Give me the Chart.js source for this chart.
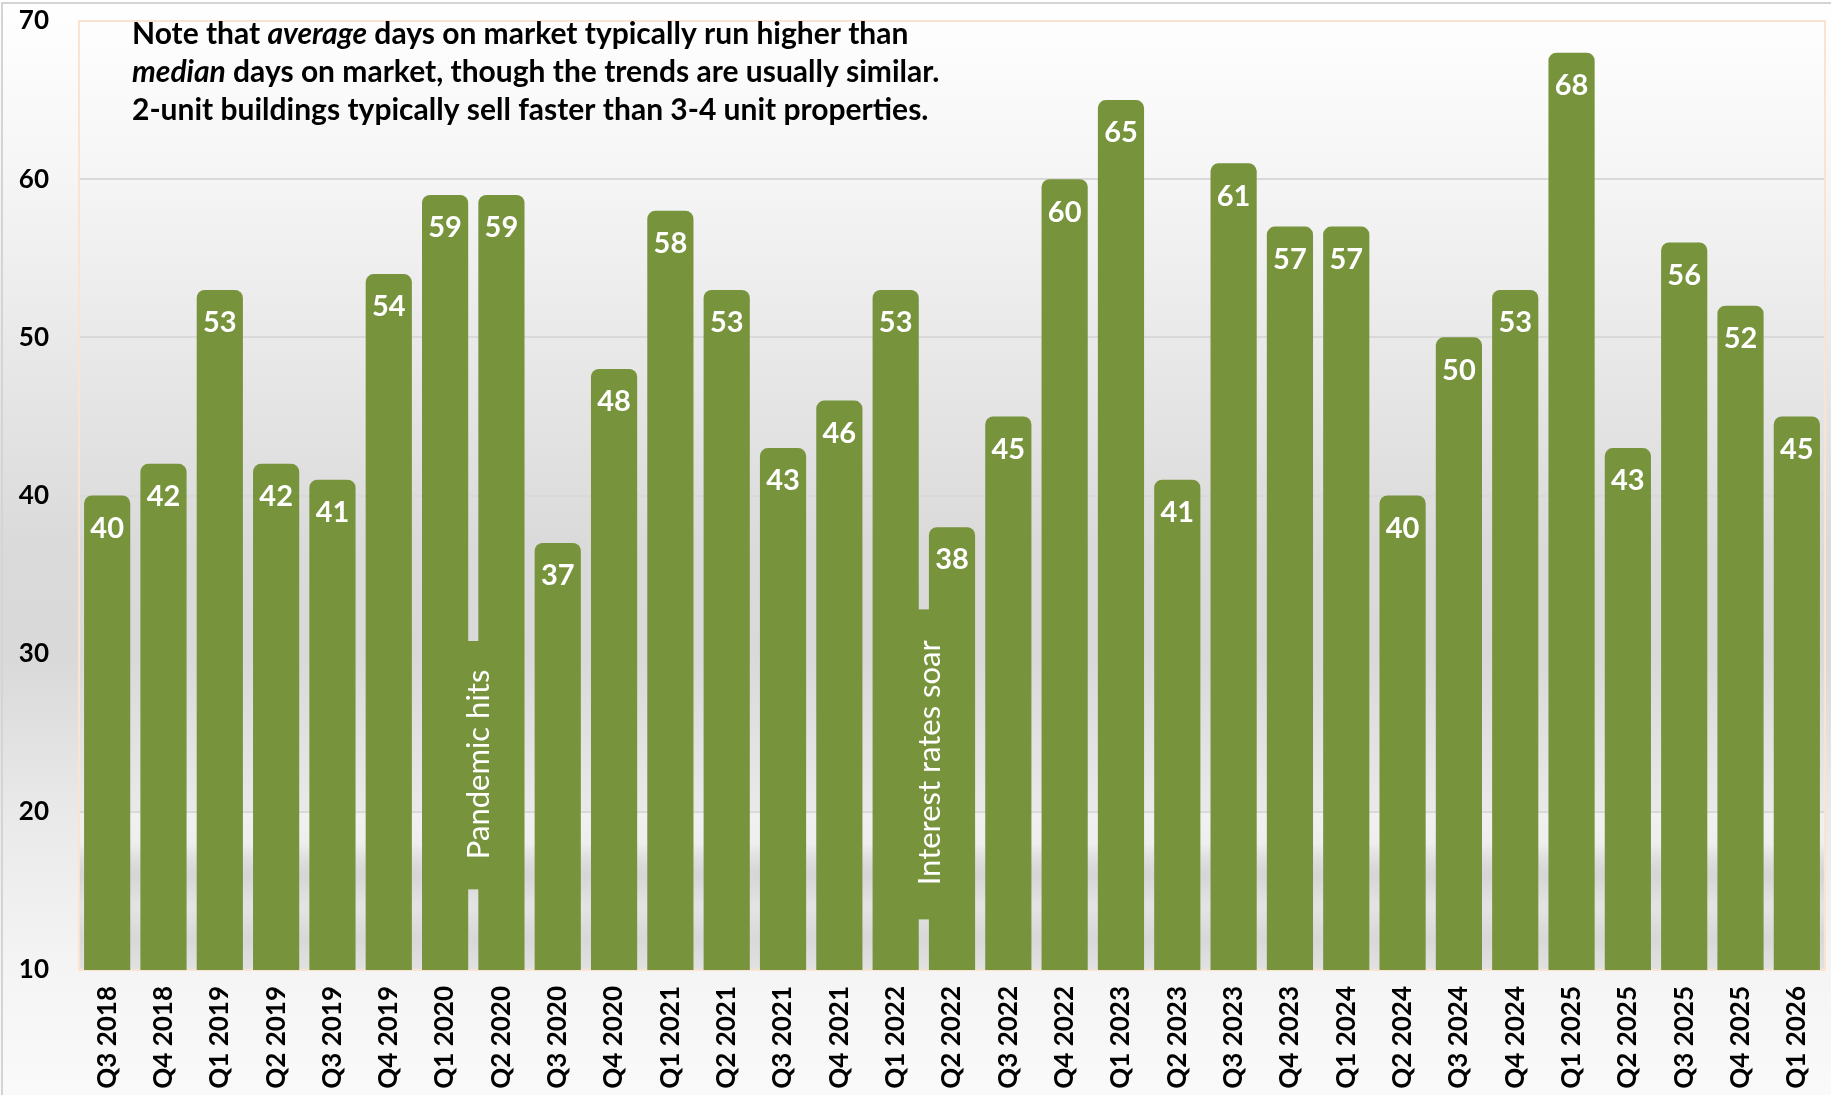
<!DOCTYPE html>
<html>
<head>
<meta charset="utf-8">
<script src="https://cdn.jsdelivr.net/npm/chart.js@4.4.1/dist/chart.umd.min.js"></script>
<style>
  html, body { margin: 0; padding: 0; background: #fafafa; }
  canvas { display: block; }
</style>
</head>
<body>
<canvas id="domChart" width="1831" height="1095"></canvas>
<script>
// Average days on market, 2-unit buildings, by quarter
const quarters = [
  'Q3 2018', 'Q4 2018',
  'Q1 2019', 'Q2 2019', 'Q3 2019', 'Q4 2019',
  'Q1 2020', 'Q2 2020', 'Q3 2020', 'Q4 2020',
  'Q1 2021', 'Q2 2021', 'Q3 2021', 'Q4 2021',
  'Q1 2022', 'Q2 2022', 'Q3 2022', 'Q4 2022',
  'Q1 2023', 'Q2 2023', 'Q3 2023', 'Q4 2023',
  'Q1 2024', 'Q2 2024', 'Q3 2024', 'Q4 2024',
  'Q1 2025', 'Q2 2025', 'Q3 2025', 'Q4 2025',
  'Q1 2026'
];
const avgDays = [
  40, 42,
  53, 42, 41, 54,
  59, 59, 37, 48,
  58, 53, 43, 46,
  53, 38, 45, 60,
  65, 41, 61, 57,
  57, 40, 50, 53,
  68, 43, 56, 52,
  45
];
const yTickValues = [10, 20, 30, 40, 50, 60, 70];

const eventLabels = ['Pandemic hits', 'Interest rates soar'];
const eventAfter = ['Q1 2020', 'Q1 2022'];

const noteLines = [
  [['Note that ', false], ['average', true], [' days on market typically run higher than', false]],
  [['median', true], [' days on market, though the trends are usually similar.', false]],
  [['2-unit buildings typically sell faster than 3-4 unit properties.', false]]
];

const GREEN = '#77933c';
const FONT = 'Lato, "Open Sans", sans-serif';

// page background, frame and plot border
const backdrop = {
  id: 'backdrop',
  beforeDraw(chart) {
    const { ctx, width, height, chartArea: a, scales } = chart;
    ctx.save();
    const g = ctx.createLinearGradient(0, 0, 0, height);
    g.addColorStop(0, '#ffffff');
    g.addColorStop(0.15, '#f6f6f6');
    g.addColorStop(0.5, '#dadada');
    g.addColorStop(0.6, '#d9d9d9');
    g.addColorStop(0.74, '#e9e9e9');
    g.addColorStop(0.88, '#f4f4f4');
    g.addColorStop(1, '#fafafa');
    ctx.fillStyle = g;
    ctx.fillRect(0, 0, width, height);

    // soft shadow band near the floor of the plot
    const y20 = scales.y.getPixelForValue(20);
    const sg = ctx.createLinearGradient(0, y20, 0, a.bottom);
    sg.addColorStop(0, 'rgba(255,255,255,0.35)');
    sg.addColorStop(0.2, 'rgba(255,255,255,0.15)');
    sg.addColorStop(0.4, 'rgba(0,0,0,0.10)');
    sg.addColorStop(0.6, 'rgba(0,0,0,0.05)');
    sg.addColorStop(0.8, 'rgba(0,0,0,0.11)');
    sg.addColorStop(1, 'rgba(0,0,0,0.08)');
    ctx.fillStyle = sg;
    ctx.fillRect(a.left, y20, a.right - a.left, a.bottom - y20);

    // outer frame
    ctx.strokeStyle = '#d4d4d4';
    ctx.lineWidth = 2;
    ctx.beginPath();
    ctx.moveTo(2, height + 5);
    ctx.lineTo(2, 3);
    ctx.lineTo(width + 5, 3);
    ctx.stroke();
    ctx.restore();
  },
  beforeDatasetsDraw(chart) {
    const { ctx, chartArea: a } = chart;
    ctx.save();
    ctx.strokeStyle = '#fbe3d2';
    ctx.lineWidth = 2;
    ctx.strokeRect(a.left, a.top, a.right - a.left, a.bottom - a.top);
    ctx.restore();
  }
};

// white value labels inside bar tops, event markers and the note text
const overlays = {
  id: 'overlays',
  afterDatasetsDraw(chart) {
    const { ctx, scales } = chart;
    const x = scales.x, y = scales.y;
    const bars = chart.getDatasetMeta(0).data;
    ctx.save();

    ctx.fillStyle = '#ffffff';
    ctx.font = 'bold 29px ' + FONT;
    ctx.textAlign = 'center';
    ctx.textBaseline = 'middle';
    bars.forEach((bar, i) => {
      ctx.fillText(String(avgDays[i]), bar.x, bar.y + 33);
    });

    // events: green tab bridging the gap after the given quarter
    const tabs = [{ top: 30.8, bottom: 15.1, mid: 23 }, { top: 32.8, bottom: 13.2, mid: 23.1 }];
    eventLabels.forEach((label, k) => {
      const idx = quarters.indexOf(eventAfter[k]);
      const gx = (x.getPixelForValue(idx) + x.getPixelForValue(idx + 1)) / 2;
      const t = tabs[k];
      ctx.fillStyle = GREEN;
      ctx.fillRect(gx - 24, y.getPixelForValue(t.top), 48, y.getPixelForValue(t.bottom) - y.getPixelForValue(t.top));
      ctx.save();
      ctx.translate(gx + 6, y.getPixelForValue(t.mid));
      ctx.rotate(-Math.PI / 2);
      ctx.fillStyle = '#ffffff';
      ctx.font = '31px ' + FONT;
      ctx.textAlign = 'center';
      ctx.textBaseline = 'middle';
      ctx.fillText(label, 0, 0);
      ctx.restore();
    });

    // note in the top-left of the plot
    ctx.fillStyle = '#000000';
    ctx.textAlign = 'left';
    ctx.textBaseline = 'middle';
    noteLines.forEach((parts, row) => {
      let cx = 132;
      const cy = 34 + row * 38;
      parts.forEach(([text, italic]) => {
        ctx.font = (italic ? 'italic ' : '') + 'bold 30px ' + FONT;
        ctx.fillText(text, cx, cy);
        cx += ctx.measureText(text).width;
      });
    });
    ctx.restore();
  }
};

new Chart(document.getElementById('domChart'), {
  type: 'bar',
  data: {
    labels: quarters,
    datasets: [{
      data: avgDays,
      backgroundColor: GREEN,
      borderWidth: 0,
      borderRadius: { topLeft: 8, topRight: 8, bottomLeft: 0, bottomRight: 0 },
      borderSkipped: 'start',
      categoryPercentage: 1,
      barPercentage: 0.82
    }]
  },
  options: {
    responsive: false,
    animation: false,
    layout: { padding: { top: 21, right: 6, left: 0, bottom: 0 } },
    plugins: {
      legend: { display: false },
      tooltip: { enabled: false }
    },
    scales: {
      y: {
        min: yTickValues[0],
        max: yTickValues[yTickValues.length - 1],
        afterBuildTicks: (scale) => { scale.ticks = yTickValues.map(v => ({ value: v })); },
        afterFit: (scale) => {
          scale.width = 79;
          scale.paddingTop = 0;
          scale.paddingBottom = 0;
        },
        grid: { color: '#d9d9d9', lineWidth: 2, drawTicks: false },
        border: { display: false },
        ticks: {
          padding: 30,
          color: '#000',
          font: { family: FONT, weight: 'bold', size: 26 }
        }
      },
      x: {
        afterFit: (scale) => {
          scale.height = 125;
          scale.paddingLeft = 0;
          scale.paddingRight = 0;
        },
        grid: { display: false, drawTicks: false },
        border: { display: false },
        ticks: {
          minRotation: 90,
          maxRotation: 90,
          autoSkip: false,
          padding: 16,
          color: '#000',
          font: { family: FONT, weight: 'bold', size: 26 }
        }
      }
    }
  },
  plugins: [backdrop, overlays]
});
</script>
</body>
</html>
